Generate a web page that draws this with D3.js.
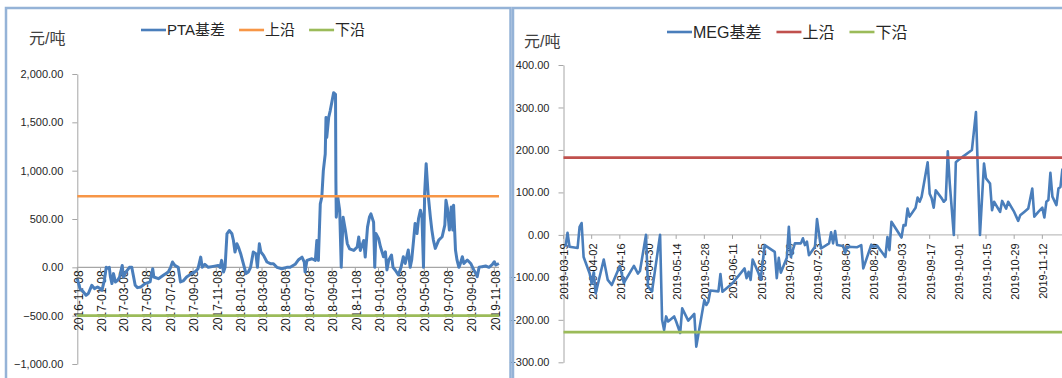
<!DOCTYPE html>
<html>
<head>
<meta charset="utf-8">
<script src="https://cdn.jsdelivr.net/npm/d3@7"></script>
<style>
  body { margin: 0; background: #fff; }
  svg { display: block; font-family: "Liberation Sans", Arial, "Noto Sans CJK SC", sans-serif; }
</style>
</head>
<body>
<div id="chart"></div>
<script>
// PTA basis (left panel)
const ptaDates = [
  '2016-11-08','2016-11-15','2016-11-24','2016-12-01','2016-12-07','2016-12-16','2016-12-23','2016-12-31',
  '2017-01-07','2017-01-12','2017-01-18','2017-01-23','2017-01-25','2017-01-31','2017-02-03','2017-02-07','2017-02-11','2017-02-16','2017-02-22','2017-02-27',
  '2017-03-06','2017-03-09','2017-03-16','2017-03-25','2017-03-31','2017-04-04','2017-04-09','2017-04-15','2017-04-24','2017-05-05','2017-05-18','2017-05-25','2017-05-28','2017-06-09','2017-06-22',
  '2017-07-05','2017-07-11','2017-07-16','2017-07-22','2017-07-31','2017-08-06','2017-08-13','2017-08-22','2017-09-04','2017-09-13','2017-09-21','2017-09-28','2017-10-02','2017-10-09','2017-10-18','2017-10-31',
  '2017-11-13','2017-11-18','2017-11-22','2017-11-27','2017-12-01','2017-12-06','2017-12-12','2017-12-19','2017-12-23','2017-12-27',
  '2018-01-01','2018-01-05','2018-01-11','2018-01-18','2018-01-25','2018-01-31','2018-02-06','2018-02-13','2018-02-20','2018-02-24',
  '2018-03-01','2018-03-05','2018-03-12','2018-03-21','2018-03-30','2018-04-07','2018-04-16','2018-04-29','2018-05-12','2018-05-21',
  '2018-06-03','2018-06-12','2018-06-21','2018-06-27','2018-06-29','2018-07-04','2018-07-17','2018-07-26','2018-07-30',
  '2018-08-03','2018-08-08','2018-08-12','2018-08-16','2018-08-21','2018-08-23','2018-08-25','2018-08-30',
  '2018-09-03','2018-09-08','2018-09-12','2018-09-17','2018-09-18','2018-09-19','2018-09-23','2018-09-28',
  '2018-10-02','2018-10-07','2018-10-13','2018-10-18','2018-10-24','2018-11-04','2018-11-13','2018-11-17','2018-11-21','2018-11-30',
  '2018-12-04','2018-12-10','2018-12-15','2018-12-19','2018-12-26','2018-12-29',
  '2019-01-01','2019-01-08','2019-01-13','2019-01-21','2019-01-26','2019-01-30','2019-02-04','2019-02-11','2019-02-15','2019-02-21',
  '2019-03-01','2019-03-08','2019-03-14','2019-03-19','2019-03-27','2019-04-01','2019-04-05','2019-04-10','2019-04-14','2019-04-19','2019-04-23','2019-04-28',
  '2019-05-02','2019-05-06','2019-05-09','2019-05-13','2019-05-18','2019-05-24','2019-05-28','2019-06-01','2019-06-06','2019-06-15','2019-06-24',
  '2019-07-01','2019-07-04','2019-07-08','2019-07-13','2019-07-18','2019-07-22','2019-07-24','2019-07-29',
  '2019-08-02','2019-08-07','2019-08-11','2019-08-16','2019-08-20','2019-08-29','2019-09-07','2019-09-15','2019-09-20','2019-09-24','2019-09-29',
  '2019-10-07','2019-10-16','2019-10-25','2019-11-03','2019-11-08','2019-11-12','2019-11-20'
];
const ptaBasis = [
  -120,-220,-254,-289,-271,-186,-220,-203,
  -220,-237,-134,0,-10,0,-100,-168,-65,-151,-134,-100,
  20,-100,-48,0,0,-82,-186,-210,-203,-168,-151,-14,-100,-117,-82,
  -48,0,55,20,0,-151,-141,-100,-65,-48,-14,106,0,31,0,10,
  20,0,72,-48,0,347,381,347,278,158,
  244,210,141,38,-65,-48,0,158,141,0,
  244,158,124,55,38,38,0,-14,0,0,
  31,79,106,55,-48,72,89,72,278,
  72,656,725,1000,1172,1550,1344,1550,
  1619,1722,1807,1790,897,519,725,588,
  0,519,381,244,192,175,210,313,175,278,
  106,416,519,553,467,0,
  350,299,213,110,160,-27,76,127,0,-30,
  -79,0,110,40,179,0,76,282,454,350,505,591,
  522,0,763,1072,763,522,385,282,196,282,316,
  436,694,608,385,625,385,643,179,
  76,0,40,110,40,76,40,-27,-62,-96,0,
  7,14,0,30,58,24,40
];
const ptaBands = [735, -500];
const ptaSeries = ['PTA基差', '上沿', '下沿'];
const ptaXTicks = ['2016-11-08','2017-01-08','2017-03-08','2017-05-08','2017-07-08','2017-09-08','2017-11-08',
  '2018-01-08','2018-03-08','2018-05-08','2018-07-08','2018-09-08','2018-11-08',
  '2019-01-08','2019-03-08','2019-05-08','2019-07-08','2019-09-08','2019-11-08'];
const ptaYTicks = [-1000, -500, 0, 500, 1000, 1500, 2000];

// MEG basis (right panel)
const megDates = [
  '2019-03-20','2019-03-21','2019-03-22','2019-03-26','2019-03-27','2019-03-28','2019-03-29',
  '2019-04-01','2019-04-02','2019-04-03','2019-04-04','2019-04-08','2019-04-10','2019-04-12','2019-04-16','2019-04-18',
  '2019-04-23','2019-04-25','2019-04-26','2019-04-29','2019-04-30','2019-05-02','2019-05-06','2019-05-07','2019-05-08',
  '2019-05-09','2019-05-10','2019-05-13','2019-05-14','2019-05-16','2019-05-17','2019-05-20','2019-05-23','2019-05-24',
  '2019-05-28','2019-05-29','2019-05-30','2019-05-31','2019-06-04','2019-06-05','2019-06-06','2019-06-11','2019-06-17',
  '2019-06-18','2019-06-19','2019-06-20','2019-06-21','2019-06-24','2019-06-25','2019-06-27','2019-07-02','2019-07-03',
  '2019-07-04','2019-07-05','2019-07-08','2019-07-09','2019-07-10','2019-07-12','2019-07-15','2019-07-16','2019-07-17',
  '2019-07-18','2019-07-19','2019-07-22','2019-07-23','2019-07-25','2019-07-29','2019-07-30','2019-07-31','2019-08-01',
  '2019-08-02','2019-08-05','2019-08-06','2019-08-07','2019-08-12','2019-08-14','2019-08-15','2019-08-19','2019-08-20',
  '2019-08-22','2019-08-26','2019-08-27','2019-08-28','2019-08-29','2019-09-03','2019-09-04','2019-09-05','2019-09-06',
  '2019-09-07','2019-09-10','2019-09-11','2019-09-12','2019-09-13','2019-09-16','2019-09-17','2019-09-18','2019-09-19',
  '2019-09-20','2019-09-23','2019-09-24','2019-09-25','2019-09-26','2019-09-27','2019-09-29','2019-09-30','2019-10-02',
  '2019-10-08','2019-10-10','2019-10-12','2019-10-14','2019-10-15','2019-10-17','2019-10-18','2019-10-19','2019-10-22',
  '2019-10-23','2019-10-25','2019-10-26','2019-10-29','2019-10-31','2019-11-01','2019-11-03','2019-11-05','2019-11-07',
  '2019-11-08','2019-11-10','2019-11-12','2019-11-13','2019-11-14','2019-11-15','2019-11-16','2019-11-17','2019-11-19',
  '2019-11-20','2019-11-21','2019-11-22'
];
const megBasis = [
  -28,5,-28,-31,19,28,-52,
  -91,-115,-88,-138,-58,-106,-118,-73,-113,
  -73,-91,-85,0,-122,-133,0,-200,-224,
  -192,-204,-192,-204,-231,-173,-202,-186,-263,
  -153,-165,-157,-131,-133,-92,-134,-114,-79,
  -102,-87,-106,-58,-91,-105,-24,-40,-102,
  -54,-89,-54,19,-52,-20,-20,-8,-24,
  -16,-48,-28,37,-32,-20,6,-20,9,
  -24,-26,-42,-28,-29,-24,-79,-23,-28,
  -26,-52,-5,-36,31,-6,23,22,62,
  43,64,88,78,90,171,97,86,64,
  105,86,78,83,197,120,0,171,179,
  200,289,0,168,133,121,58,78,54,
  80,62,78,54,33,46,54,62,109,
  43,54,64,41,78,82,146,90,70,
  109,113,156
];
const megBands = [182, -229];
const megSeries = ['MEG基差', '上沿', '下沿'];
const megXTicks = ['2019-03-19','2019-04-02','2019-04-16','2019-04-30','2019-05-14','2019-05-28','2019-06-11',
  '2019-06-25','2019-07-09','2019-07-23','2019-08-06','2019-08-20','2019-09-03','2019-09-17',
  '2019-10-01','2019-10-15','2019-10-29','2019-11-12'];
const megYTicks = [-300, -200, -100, 0, 100, 200, 300, 400];

const parseDate = d3.utcParse('%Y-%m-%d');

const svg = d3.select('#chart')
  .append('svg')
  .attr('width', 1062)
  .attr('height', 378);

function drawPanel(cfg) {
  const x = d3.scaleUtc()
    .domain(cfg.xDomain.map(parseDate))
    .range(cfg.xRange);
  const y = d3.scaleLinear()
    .domain(cfg.yDomain)
    .range(cfg.yRange);

  const g = svg.append('g');
  const left = cfg.xRange[0];
  const y0 = y(0);

  // unit label
  g.append('text')
    .attr('x', cfg.unitX)
    .attr('y', cfg.unitY)
    .attr('font-size', 16)
    .attr('fill', '#404040')
    .text('元/吨');

  // y axis
  const yAxis = d3.axisLeft(y)
    .tickValues(cfg.yTicks)
    .tickFormat(d3.format(cfg.yFormat))
    .tickSize(5)
    .tickSizeOuter(0)
    .tickPadding(9);
  const ya = g.append('g')
    .attr('transform', 'translate(' + left + ',0)')
    .call(yAxis);
  ya.select('.domain').attr('stroke', '#a6a6a6');
  ya.selectAll('.tick line').attr('stroke', '#a6a6a6');
  ya.selectAll('.tick text')
    .attr('font-size', 11)
    .attr('font-family', '"Liberation Sans", Arial, sans-serif')
    .attr('fill', '#262626');

  // zero line (category axis)
  g.append('line')
    .attr('x1', left).attr('x2', cfg.plotRight)
    .attr('y1', y0).attr('y2', y0)
    .attr('stroke', cfg.zeroColor)
    .attr('stroke-width', 1.3);

  const ticks = cfg.xTicks.map(parseDate);
  g.selectAll('.xtick')
    .data(ticks)
    .enter().append('line')
    .attr('x1', d => x(d)).attr('x2', d => x(d))
    .attr('y1', y0).attr('y2', y0 + 4)
    .attr('stroke', '#a6a6a6');

  g.selectAll('.xlabel')
    .data(cfg.xTicks)
    .enter().append('text')
    .attr('transform', d => 'translate(' + (x(parseDate(d)) + 1) + ',' + (y0 + cfg.labelGap) + ') rotate(-90)')
    .attr('text-anchor', 'end')
    .attr('dy', '0.35em')
    .attr('font-size', cfg.labelSize)
    .attr('fill', '#1a1a1a')
    .text(d => d);

  // basis line
  const points = cfg.dates.map((d, i) => [parseDate(d), cfg.values[i]]);
  const line = d3.line()
    .x(d => x(d[0]))
    .y(d => y(d[1]));
  g.append('path')
    .datum(points)
    .attr('d', line)
    .attr('fill', 'none')
    .attr('stroke', cfg.colors[0])
    .attr('stroke-width', cfg.lineWidth)
    .attr('stroke-linejoin', 'round');

  // upper / lower band
  cfg.bands.forEach(function(v, i) {
    g.append('line')
      .attr('x1', left).attr('x2', cfg.plotRight)
      .attr('y1', y(v)).attr('y2', y(v))
      .attr('stroke', cfg.colors[i + 1])
      .attr('stroke-width', 2.6);
  });

  // legend
  let lx = cfg.legendX;
  cfg.series.forEach(function(name, i) {
    g.append('line')
      .attr('x1', lx).attr('x2', lx + 25)
      .attr('y1', cfg.legendY).attr('y2', cfg.legendY)
      .attr('stroke', cfg.colors[i])
      .attr('stroke-width', 2.6);
    const t = g.append('text')
      .attr('x', lx + 26)
      .attr('y', cfg.legendY)
      .attr('dy', '0.36em')
      .attr('font-size', cfg.legendSize)
      .attr('fill', '#262626')
      .text(name);
    lx += 26 + t.node().getComputedTextLength() + cfg.legendGap;
  });
}

drawPanel({
  dates: ptaDates, values: ptaBasis, bands: ptaBands, series: ptaSeries,
  colors: ['#4a7ebb', '#f79646', '#9bbb59'], lineWidth: 3,
  xDomain: ['2016-11-08', '2019-11-20'], xRange: [77.3, 498.9], plotRight: 499,
  yDomain: [-1000, 2000], yRange: [364, 74], yTicks: ptaYTicks, yFormat: ',.2f',
  xTicks: ptaXTicks, labelGap: 3, labelSize: 12, zeroColor: '#a6a6a6',
  unitX: 29, unitY: 44, legendX: 141, legendY: 30, legendSize: 15, legendGap: 14
});

drawPanel({
  dates: megDates, values: megBasis, bands: megBands, series: megSeries,
  colors: ['#4a7ebb', '#c0504d', '#9bbb59'], lineWidth: 2.6,
  xDomain: ['2019-03-19', '2019-11-25'], xRange: [563.5, 1068.5], plotRight: 1070,
  yDomain: [-300, 400], yRange: [362.3, 65], yTicks: megYTicks, yFormat: '.2f',
  xTicks: megXTicks, labelGap: 8.5, labelSize: 11, zeroColor: '#bfbfbf',
  unitX: 524, unitY: 47, legendX: 667, legendY: 32, legendSize: 16, legendGap: 15
});

// chart borders
svg.append('rect')
  .attr('x', 6).attr('y', 8)
  .attr('width', 504.5).attr('height', 400)
  .attr('fill', 'none')
  .attr('stroke', '#95b3d7')
  .attr('stroke-width', 2.5);
svg.append('rect')
  .attr('x', 513).attr('y', 8)
  .attr('width', 600).attr('height', 400)
  .attr('fill', 'none')
  .attr('stroke', '#95b3d7')
  .attr('stroke-width', 2.5);
</script>
</body>
</html>
